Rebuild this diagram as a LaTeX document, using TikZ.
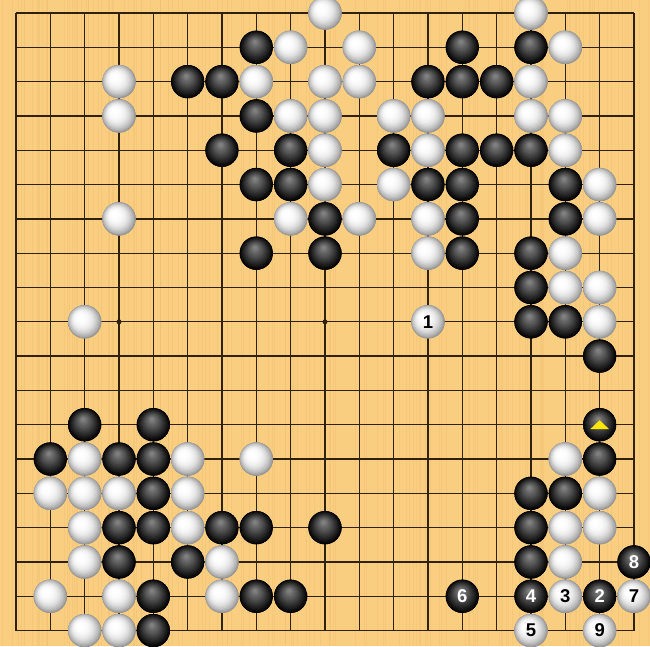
\documentclass[tikz,border=0pt]{standalone}
\usepackage{fontspec}
\setmainfont{Liberation Sans}
\definecolor{wood}{RGB}{249,206,128}
\definecolor{woodstripe}{RGB}{238,190,108}
\definecolor{gridc}{RGB}{48,33,12}
\definecolor{triy}{RGB}{255,232,0}
\begin{document}
\begin{tikzpicture}[x=1pt,y=-1pt,
  stone/.style={circle, minimum size=33.3pt, inner sep=0pt, draw=none, font=\fontsize{18.5}{18.5}\selectfont\bfseries},
  bstone/.style={stone, fill=black, text=white, path picture={
     \foreach \i in {0,...,16} {
       \pgfmathsetmacro{\ss}{1-0.9*\i/16}
       \pgfmathsetmacro{\pc}{100-56*(1-\ss)^0.95}
       \pgfmathsetmacro{\rr}{16.8*\ss}
       \fill[black!\pc] ([shift={({-1.5pt*(1-\ss)},{6pt*(1-\ss)})}]path picture bounding box.center) circle[radius=\rr pt];
     }}},
  wstone/.style={stone, fill=black!42, text=black, path picture={
     \foreach \i in {0,...,16} {
       \pgfmathsetmacro{\ss}{1.05-0.95*\i/16}
       \pgfmathsetmacro{\pc}{40*(\ss)^3}
       \pgfmathsetmacro{\rr}{17*\ss}
       \fill[black!\pc] ([shift={({-5pt*(1.05-\ss)},{5pt*(1.05-\ss)})}]path picture bounding box.center) circle[radius=\rr pt];
     }}},
  gridline/.style={draw=gridc, line width=1.35pt},
  hoshi/.style={circle, fill=gridc, minimum size=5pt, inner sep=0pt},
  marktri/.style={fill=triy}]
\useasboundingbox (0,0) rectangle (650,646);
\begin{scope}
\clip (0,0) rectangle (650,646);
\fill[wood] (0,0) rectangle (650,646);
\pgfmathsetseed{7}
\foreach \i in {1,...,140} {
  \pgfmathsetmacro{\xx}{rnd*650}
  \draw[woodstripe, line width=0.8pt, opacity=0.35] (\xx,0) -- (\xx,646);
}
% grid
\foreach \k in {0,...,18} {
  \draw[gridline] ({16+34.333*\k},13) -- ({16+34.333*\k},630.6);
  \draw[gridline] (16,{13+34.31*\k}) -- (634,{13+34.31*\k});
}
\foreach \c/\r in {3/3,9/3,15/3,3/9,9/9,15/9,3/15,9/15,15/15} {
  \node[hoshi] (h-\c-\r) at ({16+34.333*\c},{13+34.31*\r}) {};
}
% black stones
\foreach \c/\r in {7/1,13/1,15/1,5/2,6/2,12/2,13/2,14/2,7/3,6/4,8/4,11/4,13/4,14/4,15/4,
  7/5,8/5,12/5,13/5,16/5,9/6,13/6,16/6,7/7,9/7,13/7,15/7,15/8,15/9,16/9,17/10,
  2/12,4/12,17/12,1/13,3/13,4/13,17/13,4/14,15/14,16/14,3/15,4/15,6/15,7/15,9/15,15/15,
  3/16,5/16,15/16,4/17,7/17,8/17,4/18} {
  \node[bstone] (b-\c-\r) at ({16+34.333*\c},{13+34.31*\r}) {};
}
% white stones
\foreach \c/\r in {9/0,15/0,8/1,10/1,16/1,3/2,7/2,9/2,10/2,15/2,3/3,8/3,9/3,11/3,12/3,15/3,16/3,
  9/4,12/4,16/4,9/5,11/5,17/5,3/6,8/6,10/6,12/6,17/6,12/7,16/7,16/8,17/8,2/9,17/9,
  2/13,5/13,7/13,16/13,1/14,2/14,3/14,5/14,17/14,2/15,5/15,16/15,17/15,2/16,6/16,16/16,
  1/17,3/17,6/17,2/18,3/18} {
  \node[wstone] (w-\c-\r) at ({16+34.333*\c},{13+34.31*\r}) {};
}
% numbered moves
\node[wstone] (m1) at ({16+34.333*12},{13+34.31*9}) {1};
\node[bstone] (m2) at ({16+34.333*17},{13+34.31*17}) {2};
\node[wstone] (m3) at ({16+34.333*16},{13+34.31*17}) {3};
\node[bstone] (m4) at ({16+34.333*15},{13+34.31*17}) {4};
\node[wstone] (m5) at ({16+34.333*15},{13+34.31*18}) {5};
\node[bstone] (m6) at ({16+34.333*13},{13+34.31*17}) {6};
\node[wstone] (m7) at ({16+34.333*18},{13+34.31*17}) {7};
\node[bstone] (m8) at ({16+34.333*18},{13+34.31*16}) {8};
\node[wstone] (m9) at ({16+34.333*17},{13+34.31*18}) {9};
% triangle mark
\fill[marktri] ([xshift=-9.5pt,yshift=-4.5pt]b-17-12.center) -- ([xshift=9.5pt,yshift=-4.5pt]b-17-12.center) -- ([yshift=4.5pt]b-17-12.center) -- cycle;
\end{scope}
\end{tikzpicture}
\end{document}
